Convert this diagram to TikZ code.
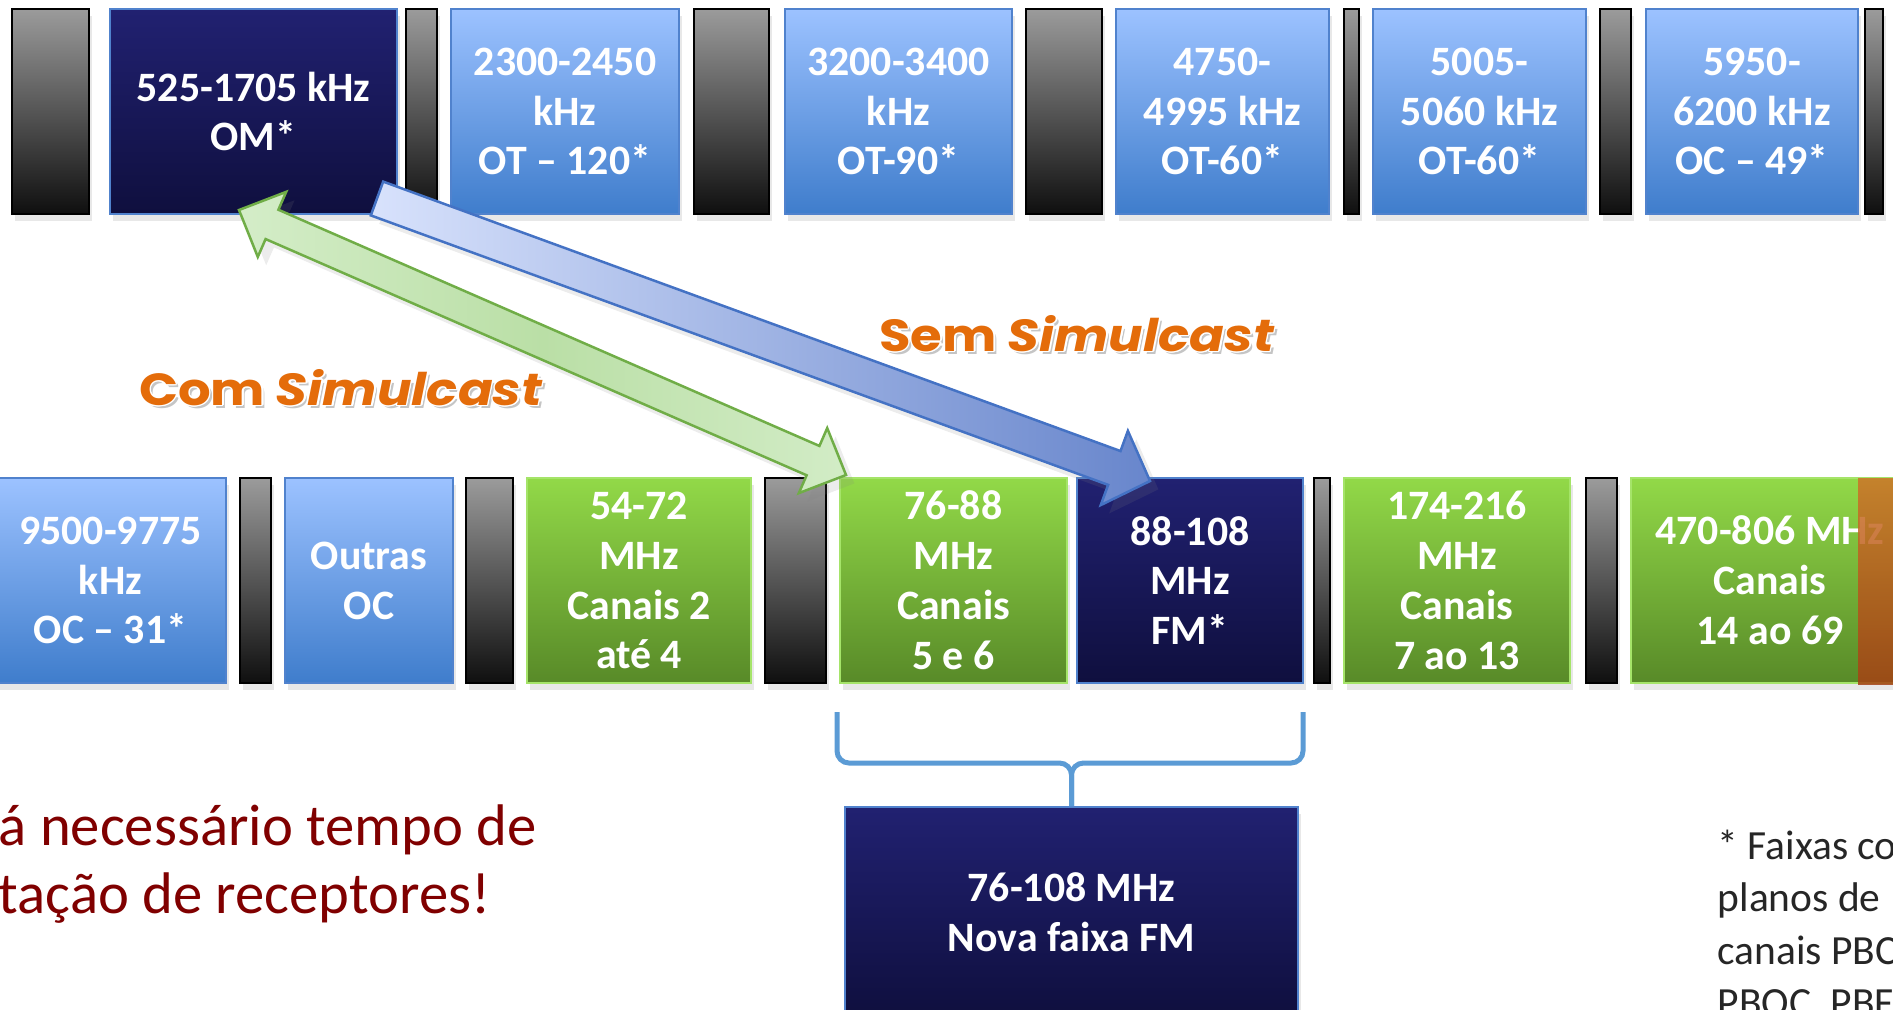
\documentclass[tikz,border=0pt]{standalone}
\usepackage{fontspec}
\setmainfont{Carlito}
\newfontfamily\gothic{Poppins}
\usepackage[copies]{contour}
\usetikzlibrary{calc,shadows}

\definecolor{navytop}{RGB}{33,33,113}
\definecolor{navybot}{RGB}{15,15,62}
\definecolor{skytop}{RGB}{156,194,255}
\definecolor{skybot}{RGB}{63,125,204}
\definecolor{skyedge}{RGB}{80,130,205}
\definecolor{leaftop}{RGB}{146,217,72}
\definecolor{leafbot}{RGB}{88,138,40}
\definecolor{leafedge}{RGB}{165,228,105}
\definecolor{bartop}{RGB}{155,155,155}
\definecolor{barbot}{RGB}{15,15,15}
\definecolor{bracecol}{RGB}{91,155,213}
\definecolor{simorange}{RGB}{228,108,10}
\definecolor{avisored}{RGB}{128,0,0}
\definecolor{arrowblue}{RGB}{68,114,196}
\definecolor{arrowgreen}{RGB}{112,173,71}

\tikzset{
    band/.style={rectangle, inner sep=0pt, minimum height=20.5mm, align=center,
      text=white, font=\fontsize{11.9}{14.2}\selectfont\bfseries,
      drop shadow={opacity=0.18, shadow xshift=0.3mm, shadow yshift=-0.7mm}},
    navyband/.style={band, top color=navytop, bottom color=navybot, draw=skyedge, line width=0.2mm},
    skyband/.style={band, top color=skytop, bottom color=skybot, draw=skyedge, line width=0.2mm},
    leafband/.style={band, top color=leaftop, bottom color=leafbot, draw=leafedge, line width=0.2mm},
    guardbar/.style={band, top color=bartop, bottom color=barbot, draw=black, line width=0.25mm},
    overlaybar/.style={top color={rgb,255:red,205;green,115;blue,40}, bottom color={rgb,255:red,165;green,65;blue,20}, fill opacity=0.85}
}
\tikzset{
    simarrow/.style={draw=arrowgreen, line width=0.25mm,
      left color={rgb,255:red,212;green,237;blue,200}, right color={rgb,255:red,210;green,236;blue,198},
      middle color={rgb,255:red,186;green,223;blue,166}, drop shadow={opacity=0.15}},
    nosimarrow/.style={draw=arrowblue, line width=0.25mm,
      left color={rgb,255:red,216;green,226;blue,252}, right color={rgb,255:red,104;green,134;blue,204},
      drop shadow={opacity=0.15}},
    bracket/.style={draw=bracecol, line width=0.5mm, rounded corners=1.2mm},
    simlabel/.style={inner sep=0pt, text=simorange, xscale=1.14, font=\gothic\bfseries\fontsize{12.8}{14}\selectfont},
    simshadow/.style={simlabel, text=black!45, opacity=0.5},
    aviso/.style={inner sep=0pt, text=avisored, font=\fontsize{16.7}{19}\selectfont},
    nota/.style={inner sep=0pt, align=left, text=black!85, font=\fontsize{11.8}{14.8}\selectfont}
}

% block arrows: style, from, to, shaft half width, head half width, head length
\newcommand{\twowayarrow}[6]{
  \draw[#1] (#2)
    -- ($(#2)!#6!(#3)!#5!90:(#3)$) -- ($(#2)!#6!(#3)!#4!90:(#3)$)
    -- ($(#3)!#6!(#2)!#4!-90:(#2)$) -- ($(#3)!#6!(#2)!#5!-90:(#2)$)
    -- (#3)
    -- ($(#3)!#6!(#2)!#5!90:(#2)$) -- ($(#3)!#6!(#2)!#4!90:(#2)$)
    -- ($(#2)!#6!(#3)!#4!-90:(#3)$) -- ($(#2)!#6!(#3)!#5!-90:(#3)$)
    -- cycle;}
\newcommand{\onewayarrow}[6]{
  \draw[#1] ($(#2)!#4!90:(#3)$)
    -- ($(#3)!#6!(#2)!#4!-90:(#2)$) -- ($(#3)!#6!(#2)!#5!-90:(#2)$)
    -- (#3)
    -- ($(#3)!#6!(#2)!#5!90:(#2)$) -- ($(#3)!#6!(#2)!#4!90:(#2)$)
    -- ($(#2)!#4!-90:(#3)$) -- cycle;}

\begin{document}
\begin{tikzpicture}[x=0.1mm, y=-0.1mm]
  \useasboundingbox (0,0) rectangle (1893,1009);
  \clip (0,0) rectangle (1893,1009);

  % upper row of bands
  \node (g1) [guardbar, minimum width=7.7mm] at (50.5,111.5) {};
  \node (om) [navyband, minimum width=28.7mm] at (253.5,111.5) {525-1705 kHz\\OM*};
  \node (g2) [guardbar, minimum width=3.1mm] at (421.5,111.5) {};
  \node (ot120) [skyband, minimum width=22.8mm] at (565,111.5) {2300-2450\\kHz\\OT – 120*};
  \node (g3) [guardbar, minimum width=7.5mm] at (731.5,111.5) {};
  \node (ot90) [skyband, minimum width=22.7mm] at (898.5,111.5) {3200-3400\\kHz\\OT-90*};
  \node (g4) [guardbar, minimum width=7.6mm] at (1064,111.5) {};
  \node (ot60a) [skyband, minimum width=21.3mm] at (1222.5,111.5) {4750-\\4995 kHz\\OT-60*};
  \node (g5) [guardbar, minimum width=1.5mm] at (1351.5,111.5) {};
  \node (ot60b) [skyband, minimum width=21.3mm] at (1479.5,111.5) {5005-\\5060 kHz\\OT-60*};
  \node (g6) [guardbar, minimum width=3.1mm] at (1615.5,111.5) {};
  \node (oc49) [skyband, minimum width=21.2mm] at (1752,111.5) {5950-\\6200 kHz\\OC – 49*};
  \node (g7) [guardbar, minimum width=1.8mm] at (1874,111.5) {};

  % lower row of bands
  \node (oc31) [skyband, minimum width=23.1mm] at (110.5,580.5) {9500-9775\\kHz\\OC – 31*};
  \node (h1) [guardbar, minimum width=3.1mm] at (255.5,580.5) {};
  \node (outras) [skyband, minimum width=16.8mm] at (369,580.5) {Outras\\OC};
  \node (h2) [guardbar, minimum width=4.7mm] at (489.5,580.5) {};
  \node (c54) [leafband, minimum width=22.4mm] at (639,580.5) {54-72\\MHz\\Canais 2\\até 4};
  \node (h3) [guardbar, minimum width=6.1mm] at (795.5,580.5) {};
  \node (c76) [leafband, minimum width=22.7mm] at (953.5,580.5) {76-88\\MHz\\Canais\\5 e 6};
  \node (fm) [navyband, minimum width=22.6mm] at (1190,580.5) {88-108\\MHz\\FM*};
  \node (h4) [guardbar, minimum width=1.6mm] at (1322,580.5) {};
  \node (c174) [leafband, minimum width=22.6mm] at (1457,580.5) {174-216\\MHz\\Canais\\7 ao 13};
  \node (h5) [guardbar, minimum width=3.1mm] at (1601.5,580.5) {};
  \node (c470) [leafband, minimum width=27.8mm] at (1770,580.5) {470-806 MHz\\Canais\\14 ao 69};
  \path[overlaybar] (1858,478) rectangle (c470.south east);

  % new FM band
  \node (novafm) [navyband, minimum width=45.3mm, minimum height=21mm] at (1071.5,912) {76-108 MHz\\Nova faixa FM};
  \draw[bracket] ($(c76.south west)+(-2,28)$) |- ($(novafm.north)+(0,-43)$) -- (novafm.north);
  \draw[bracket] ($(fm.south east)+(-1,28)$) |- ($(novafm.north)+(0,-43)$) -- (novafm.north);

  % arrows
  \coordinate (ga) at ($(om.south)+(-14.5,-5)$);
  \coordinate (gb) at ($(c76.north west)+(7,-2)$);
  \coordinate (ba) at ($(om.south east)+(-21,-16.5)$);
  \coordinate (bb) at ($(fm.north west)+(74,4)$);
  \twowayarrow{simarrow}{ga}{gb}{1.6mm}{3.55mm}{3.6mm}
  \onewayarrow{nosimarrow}{ba}{bb}{1.8mm}{3.95mm}{3.8mm}

  \node (comsh) [simshadow] at (344,391) {Com \textit{Simulcast}};
  \node (com) [simlabel] at (341,388) {\contour{white}{Com \textit{Simulcast}}};
  \node (semsh) [simshadow] at (1080,337) {Sem \textit{Simulcast}};
  \node (sem) [simlabel] at (1077,334) {\contour{white}{Sem \textit{Simulcast}}};

  % texts
  \node (aviso1) [aviso, anchor=base west] at (-2,845) {á necessário tempo de};
  \node (aviso2) [aviso, anchor=base west] at (-2,913) {tação de receptores!};
  \node (nota) [nota, anchor=base west] at (1717,1016) {* Faixas co\\planos de\\canais PBC\\PBOC, PBF};
\end{tikzpicture}
\end{document}
